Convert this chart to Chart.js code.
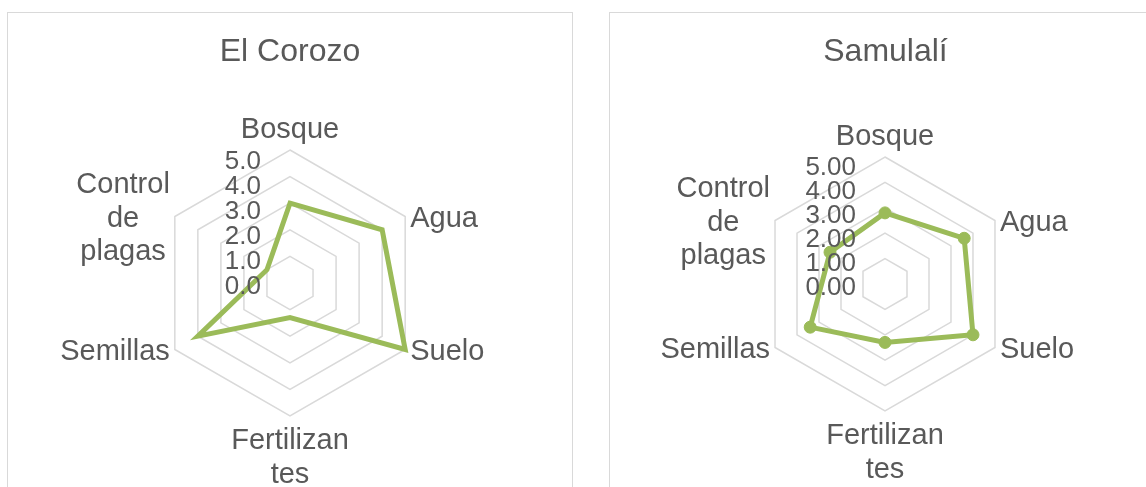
<!DOCTYPE html>
<html>
<head>
<meta charset="utf-8">
<script src="https://cdn.jsdelivr.net/npm/chart.js@4"></script>
<style>
  body { margin: 0; background: #fff; width: 1146px; height: 487px; overflow: hidden; position: relative; }
  .caja { position: absolute; top: 12px; height: 500px; box-sizing: border-box; border: 1.5px solid #d9d9d9; }
  canvas { position: absolute; top: 12px; }
</style>
</head>
<body>
<div class="caja" style="left:7px; width:566px"></div>
<div class="caja" style="left:609px; width:560px"></div>
<canvas id="corozo" width="566" height="475" style="left:7px"></canvas>
<canvas id="samulali" width="537" height="475" style="left:609px"></canvas>
<script>
const categorias = ['Bosque', 'Agua', 'Suelo', ['Fertilizan', 'tes'], 'Semillas', ['Control', 'de', 'plagas']]
const corozo = [3.0, 4.0, 5.0, 1.3, 4.0, 1.0]
const samulali = [2.8, 3.6, 4.0, 2.3, 3.4, 2.5]
const ticksCorozo = ['0.0', '1.0', '2.0', '3.0', '4.0', '5.0']
const ticksSamulali = ['0.00', '1.00', '2.00', '3.00', '4.00', '5.00']

const verde = '#9BBB59'
const gris = '#595959'
const fuente = '"Liberation Sans", Arial, sans-serif'

// etiquetas de ejes y de categorias al estilo Excel
const etiquetas = {
  id: 'etiquetas',
  afterDatasetsDraw(chart, args, opts) {
    const r = chart.scales.r
    const ctx = chart.ctx
    ctx.save()
    ctx.fillStyle = gris
    ctx.textBaseline = 'alphabetic'

    ctx.font = '26px ' + fuente
    ctx.textAlign = 'right'
    opts.ticks.forEach((t, i) => {
      const d = r.getDistanceFromCenterForValue(i)
      ctx.fillText(t, r.xCenter - 29, r.yCenter - d * 0.943 + 11)
    })

    ctx.font = '29px ' + fuente
    ctx.textAlign = 'center'
    const lh = 33.5
    const R = r.drawingArea
    chart.data.labels.forEach((lab, i) => {
      const lineas = Array.isArray(lab) ? lab : [lab]
      const n = lineas.length
      const p = r.getPointPosition(i, R)
      const ang = Math.round(r.getIndexAngle(i) * 180 / Math.PI) % 360
      const ancho = Math.max(...lineas.map(l => ctx.measureText(l).width))
      let cx = p.x
      if (ang > 0 && ang < 180) cx = p.x + 5 + ancho / 2
      if (ang > 180) cx = p.x - 5 - ancho / 2
      let y0
      if (ang === 0) y0 = p.y - 12 - (n - 1) * lh
      else if (ang === 180) y0 = p.y + 33
      else y0 = p.y + 10 - (n - 1) / 2 * lh
      lineas.forEach((l, k) => ctx.fillText(l, cx, y0 + k * lh))
    })
    ctx.restore()
  }
}

function crearRadar(id, titulo, valores, ticks, radioPunto, pad, tituloAbajo) {
  new Chart(document.getElementById(id), {
    type: 'radar',
    data: {
      labels: categorias,
      datasets: [{
        data: valores,
        borderColor: verde,
        backgroundColor: verde,
        borderWidth: 5,
        fill: false,
        tension: 0,
        pointRadius: radioPunto,
        pointHoverRadius: radioPunto,
        pointBorderWidth: 1,
      }],
    },
    options: {
      responsive: false,
      animation: false,
      layout: { padding: pad },
      plugins: {
        legend: { display: false },
        tooltip: { enabled: false },
        title: {
          display: true,
          text: titulo,
          color: gris,
          font: { size: 32, family: fuente, weight: 'normal' },
          padding: { top: 0, bottom: tituloAbajo },
        },
        etiquetas: { ticks: ticks },
      },
      scales: {
        r: {
          min: 0,
          max: 5,
          ticks: { display: false, stepSize: 1 },
          pointLabels: { display: false },
          angleLines: { display: false },
          grid: { color: '#d9d9d9', lineWidth: 1.5 },
        },
      },
    },
    plugins: [etiquetas],
  })
}

crearRadar('corozo', 'El Corozo', corozo, ticksCorozo, 0, { top: 20.8, left: 149, right: 149, bottom: 70 }, 78.8)
crearRadar('samulali', 'Samulalí', samulali, ticksSamulali, 6, { top: 20.8, left: 149, right: 133, bottom: 76 }, 85.8)
</script>
</body>
</html>
